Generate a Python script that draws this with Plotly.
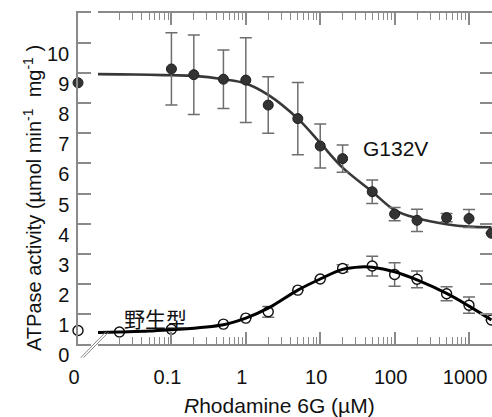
import plotly.graph_objects as go

# ---------------- data ----------------
# G132V mutant (filled circles)
conc_g = [0.1, 0.2, 0.5, 1, 2, 5, 10, 20, 50, 100, 200, 500, 1000, 2000]
act_g = [9.14, 8.95, 8.80, 8.77, 7.94, 7.49, 6.58, 6.16, 5.06, 4.32, 4.11, 4.20, 4.17, 3.68]
err_g = [1.20, 1.32, 0.97, 1.41, 0.94, 1.20, 0.73, 0.45, 0.39, 0.22, 0.37, 0.14, 0.30, 0.0]
zero_g = [8.68]

# wild type (open circles)
conc_w = [0.02, 0.1, 0.5, 1, 2, 5, 10, 20, 50, 100, 200, 500, 1000, 2000]
act_w = [0.40, 0.49, 0.66, 0.86, 1.07, 1.79, 2.16, 2.51, 2.59, 2.31, 2.15, 1.67, 1.29, 0.80]
err_w = [0, 0, 0, 0, 0.18, 0, 0, 0.12, 0.33, 0.39, 0.28, 0.23, 0.27, 0]
zero_w = [0.45]

# fitted curves
fit_g_x = [0.0103, 0.02, 0.05, 0.1, 0.2, 0.5, 1, 2, 5, 10, 20, 50, 100, 200, 500, 1000, 2000]
fit_g_y = [8.97, 8.96, 8.95, 8.93, 8.91, 8.80, 8.66, 8.28, 7.49, 6.68, 5.86, 5.06, 4.45, 4.18, 3.98, 3.90, 3.88]
fit_w_x = [0.0103, 0.02, 0.05, 0.1, 0.5, 1, 2, 5, 10, 20, 35, 50, 100, 200, 500, 1000, 2000]
fit_w_y = [0.38, 0.40, 0.43, 0.47, 0.64, 0.86, 1.19, 1.79, 2.16, 2.48, 2.56, 2.55, 2.40, 2.13, 1.68, 1.26, 0.80]

x_major = [0.01, 0.1, 1, 10, 100, 1000]
x_major_text = ["", "0.1", "1", "10", "100", "1000"]
x_minor = [m * d for d in [0.01, 0.1, 1, 10, 100] for m in range(2, 10)] + [2000]
y_ticks = list(range(0, 11))
Y_RANGE = [0, 11.0]

# ---------------- styling ----------------
W, H = 492, 417
GRAY = "#8a8a8a"
ERR = "#6e6e6e"
FONT = "Arial, Liberation Sans, Helvetica, sans-serif"


def px(xp):
    return xp / W


def py(yp):
    return (H - yp) / H


fig = go.Figure()

fig.add_trace(go.Scatter(x=fit_g_x, y=fit_g_y, mode="lines", xaxis="x", yaxis="y",
                         line=dict(color="#383838", width=2.6, shape="spline"),
                         showlegend=False, hoverinfo="skip"))
fig.add_trace(go.Scatter(x=fit_w_x, y=fit_w_y, mode="lines", xaxis="x", yaxis="y2",
                         line=dict(color="#000000", width=3, shape="spline"),
                         showlegend=False, hoverinfo="skip"))

fig.add_trace(go.Scatter(x=conc_g, y=act_g, mode="markers", xaxis="x", yaxis="y",
                         marker=dict(size=10, color="#333333", line=dict(color="#1e1e1e", width=1)),
                         error_y=dict(type="data", array=err_g, visible=True, color=ERR,
                                      thickness=1.5, width=6),
                         showlegend=False))
fig.add_trace(go.Scatter(x=conc_w, y=act_w, mode="markers", xaxis="x", yaxis="y",
                         marker=dict(size=10, color="#ffffff", line=dict(color="#111111", width=1.4)),
                         error_y=dict(type="data", array=err_w, visible=True, color=ERR,
                                      thickness=1.5, width=6),
                         showlegend=False))

# points at zero concentration (separate short linear axis)
fig.add_trace(go.Scatter(x=[0], y=zero_g, mode="markers", xaxis="x2", yaxis="y",
                         marker=dict(size=10, color="#333333", line=dict(color="#1e1e1e", width=1)),
                         cliponaxis=False, showlegend=False))
fig.add_trace(go.Scatter(x=[0], y=zero_w, mode="markers", xaxis="x2", yaxis="y",
                         marker=dict(size=10, color="#ffffff", line=dict(color="#111111", width=1.4)),
                         cliponaxis=False, showlegend=False))

axis_common = dict(showline=True, linecolor=GRAY, linewidth=1.5, showgrid=False, zeroline=False,
                   automargin=False,
                   tickcolor=GRAY, tickwidth=1.5, tickfont=dict(family=FONT, size=20, color="#111111"))

fig.update_layout(
    width=W, height=H,
    margin=dict(l=0, r=0, t=0, b=0),
    paper_bgcolor="white", plot_bgcolor="white",
    xaxis=dict(type="log", domain=[px(98), 1.0], range=[-1.987, 3.309], autorange=False, anchor="y",
               mirror="ticks", ticks="inside", ticklen=12,
               tickmode="array", tickvals=x_major, ticktext=x_major_text,
               ticklabelshift=-4, ticklabelstandoff=14,
               minor=dict(ticks="inside", ticklen=7, tickmode="array", tickvals=x_minor,
                          tickcolor=GRAY, tickwidth=1.3),
               **axis_common),
    xaxis2=dict(domain=[px(78), px(91)], range=[-0.001, 1], autorange=False, anchor="y",
                mirror=True, ticks="", tickmode="array", tickvals=[0], ticktext=["0"],
                ticklabelshift=-4, ticklabelstandoff=14,
                **axis_common),
    yaxis=dict(domain=[py(344), py(13)], range=Y_RANGE, autorange=False, anchor="x2", side="left",
               ticks="inside", ticklen=13, tickmode="array", tickvals=y_ticks,
               ticklabelshift=11, ticklabelstandoff=3,
               **axis_common),
    yaxis2=dict(overlaying="y", range=Y_RANGE, autorange=False, anchor="x", side="right",
                ticks="inside", ticklen=12, tickmode="array", tickvals=y_ticks,
                showticklabels=False,
                **axis_common),
    shapes=[
        dict(type="line", xref="paper", yref="paper", x0=px(80.7), y0=py(357.7), x1=px(106), y1=py(331.7),
             line=dict(color=GRAY, width=1)),
        dict(type="line", xref="paper", yref="paper", x0=px(83.5), y0=py(357.7), x1=px(108.5), y1=py(332.3),
             line=dict(color=GRAY, width=1)),
    ],
    annotations=[
        dict(text="G132V", x=px(395), y=py(148), xref="paper", yref="paper", showarrow=False,
             font=dict(family=FONT, size=21, color="#111111"), xanchor="center", yanchor="middle"),
        dict(text="野生型", x=px(155), y=py(318), xref="paper", yref="paper", showarrow=False,
             font=dict(family="Noto Sans CJK JP", size=21, color="#111111"), xanchor="center", yanchor="middle"),
        dict(text="<i>R</i>hodamine 6G (µM)", x=px(279), y=py(405), xref="paper", yref="paper",
             showarrow=False, font=dict(family=FONT, size=21, color="#111111"),
             xanchor="center", yanchor="middle"),
        dict(text="ATPase activity (µmol min<sup>-1</sup>  mg<sup>-1</sup> )", x=px(32), y=py(198),
             xref="paper", yref="paper", showarrow=False, textangle=-90,
             font=dict(family=FONT, size=20, color="#111111"), xanchor="center", yanchor="middle"),
    ],
)

# remove the browser's default 8px page margin so the figure sits at the window's corner
fig.write_html("out.html", config={"displayModeBar": False},
               post_script="document.body.style.margin='0';document.body.style.overflow='hidden';")
